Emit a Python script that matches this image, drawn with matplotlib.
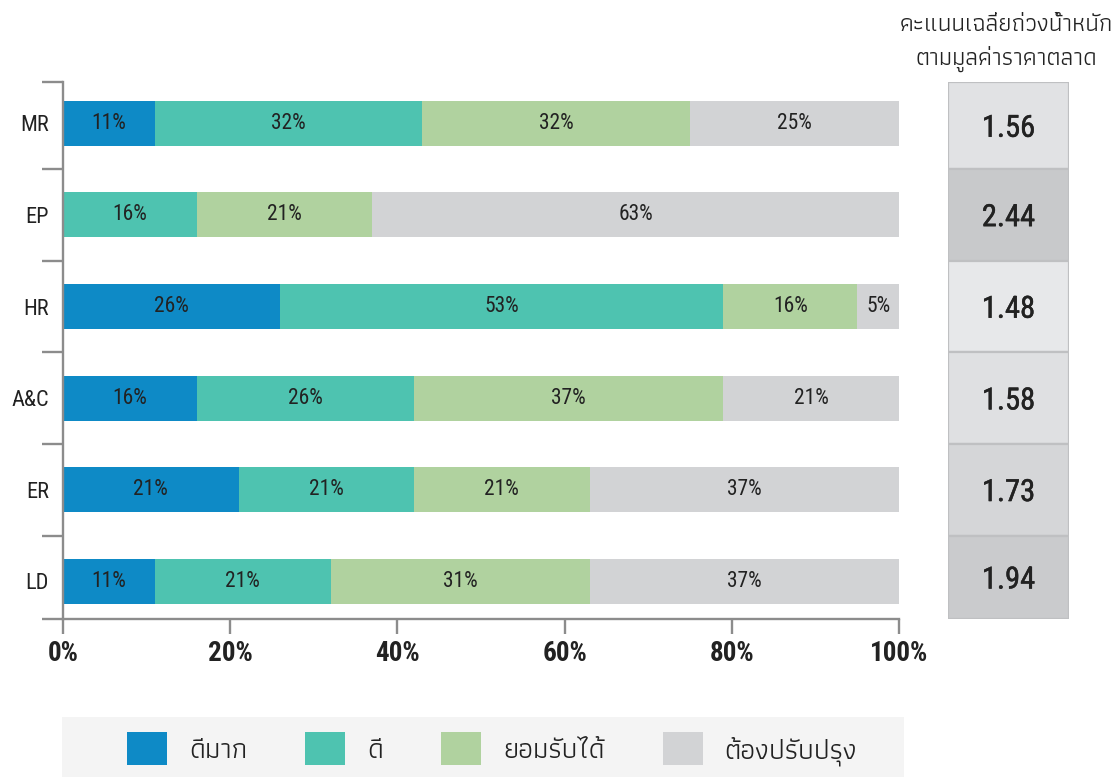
import matplotlib
matplotlib.use("Agg")
import matplotlib.pyplot as plt
import matplotlib.patheffects as pe
from matplotlib.patches import Patch, Rectangle
from matplotlib.ticker import PercentFormatter, FixedLocator

plt.rcParams['font.family'] = ['Roboto Condensed', 'Athiti', 'DejaVu Sans']

# ข้อมูลสัดส่วนคะแนนแต่ละหมวด (%)
categories = ["MR", "EP", "HR", "A&C", "ER", "LD"]
levels = ["ดีมาก", "ดี", "ยอมรับได้", "ต้องปรับปรุง"]
very_good = [11, 0, 26, 16, 21, 11]
good = [32, 16, 53, 26, 21, 21]
acceptable = [32, 21, 16, 37, 21, 31]
needs_work = [25, 63, 5, 21, 37, 37]
weighted_score = [1.56, 2.44, 1.48, 1.58, 1.73, 1.94]
score_title = ["คะแนนเฉลี่ยถ่วงน้ำหนัก", "ตามมูลค่าราคาตลาด"]

colors = ["#0E8AC6", "#4EC3B0", "#B0D29F", "#D2D3D5"]
cell_colors = ["#E1E2E4", "#C8C9CB", "#E7E8EA", "#DFE0E2", "#D5D6D8", "#CACBCD"]
axis_grey = "#8C8C8C"
text_dark = "#222222"

W, H = 1117, 777
fig = plt.figure(figsize=(W / 100, H / 100), dpi=100)

top_px, bottom_px = 82, 619
ax = fig.add_axes([63 / W, 1 - bottom_px / H, 836 / W, (bottom_px - top_px) / H])

ypos = list(range(len(categories)))
y_top, y_bottom = -0.45, 5.41
bounds = [y_top, 0.5, 1.5, 2.5, 3.5, 4.5, y_bottom]

series = [very_good, good, acceptable, needs_work]
left = [0] * len(categories)
for vals, col in zip(series, colors):
    bars = ax.barh(ypos, vals, left=left, height=0.49, color=col, linewidth=0)
    for bar, v in zip(bars, vals):
        if v > 0:
            ax.text(bar.get_x() + bar.get_width() / 2, bar.get_y() + bar.get_height() / 2,
                    f"{v}%", ha="center", va="center", fontsize=15.5, color=text_dark)
    left = [l + v for l, v in zip(left, vals)]

ax.set_xlim(0, 100)
ax.set_ylim(y_bottom, y_top)
ax.set_yticks(ypos)
ax.set_yticklabels(categories, fontsize=16, color=text_dark)
ax.yaxis.set_minor_locator(FixedLocator(bounds))
ax.tick_params(axis="y", which="major", length=0, pad=10)
ax.tick_params(axis="y", which="minor", length=15, width=1.7, color=axis_grey, direction="out")
ax.set_xticks(range(0, 101, 20))
ax.xaxis.set_major_formatter(PercentFormatter(decimals=0))
ax.tick_params(axis="x", length=11, width=1.7, color=axis_grey, pad=4,
               labelsize=19.5, labelcolor=text_dark)
for lab in ax.get_xticklabels():
    lab.set_fontweight("semibold")
for side in ["top", "right"]:
    ax.spines[side].set_visible(False)
for side in ["left", "bottom"]:
    ax.spines[side].set_color(axis_grey)
    ax.spines[side].set_linewidth(1.7)

# แผงคะแนนเฉลี่ยถ่วงน้ำหนักด้านขวา
ax2 = fig.add_axes([948 / W, 1 - bottom_px / H, 121 / W, (bottom_px - top_px) / H])
ax2.set_ylim(y_bottom, y_top)
ax2.set_xlim(0, 1)
centers = [(a + b) / 2 for a, b in zip(bounds[:-1], bounds[1:])]
heights = [b - a for a, b in zip(bounds[:-1], bounds[1:])]
ax2.barh(centers, [1] * len(centers), height=heights, color=cell_colors,
         edgecolor="#BFC0C2", linewidth=1.6)
for c, s in zip(centers, weighted_score):
    ax2.text(0.5, c + 0.03, f"{s:.2f}", ha="center", va="center", fontsize=22,
             color=text_dark, fontweight="normal",
             path_effects=[pe.withStroke(linewidth=0.35, foreground=text_dark)])
ax2.axis("off")

fig.text(1006 / W, 1 - 25 / H, score_title[0], ha="center", va="center",
         family="Athiti", fontsize=17.5, color=text_dark)
fig.text(1006 / W, 1 - 59 / H, score_title[1], ha="center", va="center",
         family="Athiti", fontsize=17.5, color=text_dark)

# กล่องคำอธิบายสีด้านล่าง
fig.patches.append(Rectangle((62 / W, 0), 842 / W, 60 / H, transform=fig.transFigure,
                             facecolor="#F4F4F4", edgecolor="none", zorder=0))
handles = [Patch(facecolor=c, edgecolor="none") for c in colors]
fs = 20.5
px = fs * 100 / 72
fig.legend(handles, levels, loc="center", bbox_to_anchor=(492 / W, 1 - 749 / H),
           ncol=4, frameon=False, prop={"family": "Athiti", "size": fs},
           handlelength=40 / px, handleheight=40 / px, handletextpad=22 / px,
           columnspacing=58 / px, borderpad=0, labelcolor=text_dark)

fig.savefig("out.png", dpi=100)
